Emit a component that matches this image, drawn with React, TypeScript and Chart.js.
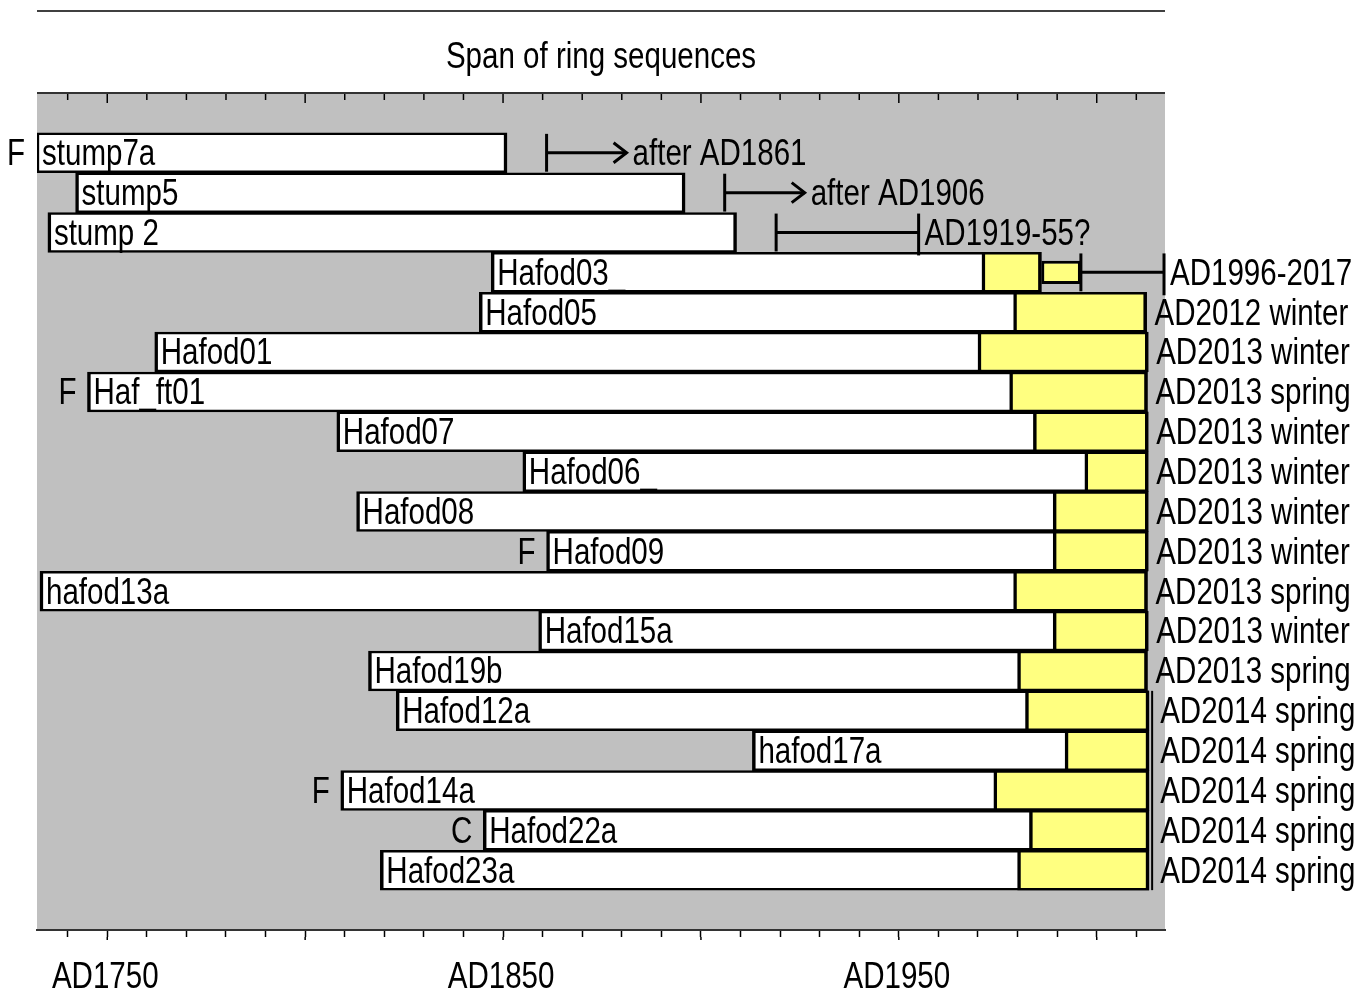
import React, { useEffect, useRef } from 'react';
import { Chart, registerables } from 'chart.js';

Chart.register(...registerables);

const FONT = '"Liberation Sans", Arial, sans-serif';
const FONT_SIZE = 36;
const CONDENSE = 0.82;

const TITLE = 'Span of ring sequences';

const SAMPLES = [
  'stump7a', 'stump5', 'stump 2', 'Hafod03_', 'Hafod05', 'Hafod01', 'Haf_ft01', 'Hafod07',
  'Hafod06_', 'Hafod08', 'Hafod09', 'hafod13a', 'Hafod15a', 'Hafod19b', 'Hafod12a',
  'hafod17a', 'Hafod14a', 'Hafod22a', 'Hafod23a',
];
const PREFIXES = ['F', '', '', '', '', '', 'F', '', '', '', 'F', '', '', '', '', '', 'F', 'C', ''];
const START_YEARS = [
  1732, 1742, 1735, 1847, 1844, 1762, 1745, 1808, 1855, 1813, 1861, 1733, 1859, 1816, 1823,
  1913, 1809, 1845, 1819,
];
const SAPWOOD_START = [
  null, null, null, 1971, 1979, 1970, 1978, 1984, 1997, 1989, 1989, 1979, 1989, 1980, 1982,
  1992, 1974, 1983, 1980,
];
const END_YEARS = [
  1851, 1896, 1909, 1986, 2012.6, 2013, 2012.8, 2013, 2013, 2013, 2013, 2012.8, 2013, 2012.8,
  2013.2, 2013.2, 2013.2, 2013.2, 2013.2,
];
const ESTIMATE_FROM = [null, null, null, 1986, null, null, null, null, null, null, null, null, null, null, null, null, null, null, null];
const ESTIMATE_TO = [null, null, null, 1996, null, null, null, null, null, null, null, null, null, null, null, null, null, null, null];
const MARKER_FROM = [1861, 1906, 1919, 1996, null, null, null, null, null, null, null, null, null, null, null, null, null, null, null];
const MARKER_TO = [null, null, 1955, 2017, null, null, null, null, null, null, null, null, null, null, null, null, null, null, null];
const FELLING_LABELS = [
  'after AD1861', 'after AD1906', 'AD1919-55?', 'AD1996-2017', 'AD2012 winter',
  'AD2013 winter', 'AD2013 spring', 'AD2013 winter', 'AD2013 winter', 'AD2013 winter',
  'AD2013 winter', 'AD2013 spring', 'AD2013 winter', 'AD2013 spring', 'AD2014 spring',
  'AD2014 spring', 'AD2014 spring', 'AD2014 spring', 'AD2014 spring',
];
const YEAR_LINE = 2014;
const YEAR_LINE_ROWS = ['Hafod12a', 'hafod17a', 'Hafod14a', 'Hafod22a', 'Hafod23a'];

const AXIS_MIN = 1732.25;
const AXIS_MAX = 2017.25;
const TICK_STEP = 10;
const TICK_YEARS = [1750, 1850, 1950];
const TICK_LABELS = ['AD1750', 'AD1850', 'AD1950'];

const pad = (arr: any[]) => [null, ...arr, null];

function drawText(ctx: CanvasRenderingContext2D, text: string, x: number, y: number, align: CanvasTextAlign) {
  ctx.save();
  ctx.translate(x, y);
  ctx.scale(CONDENSE, 1);
  ctx.font = `${FONT_SIZE}px ${FONT}`;
  ctx.textAlign = align;
  ctx.textBaseline = 'middle';
  ctx.fillStyle = '#000';
  ctx.fillText(text, 0, 0);
  ctx.restore();
}

const overlayPlugin = {
  id: 'overlay',
  beforeDraw(chart: any) {
    const { ctx, chartArea: a } = chart;
    ctx.save();
    ctx.fillStyle = '#c0c0c0';
    ctx.fillRect(a.left, a.top, a.right - a.left, a.bottom - a.top);
    ctx.strokeStyle = '#404040';
    ctx.lineWidth = 2;
    ctx.beginPath();
    ctx.moveTo(a.left, 3);
    ctx.lineTo(a.right, 3);
    ctx.stroke();
    ctx.restore();
  },
  afterDatasetsDraw(chart: any) {
    const { ctx, chartArea: a, scales } = chart;
    const xs = scales.x;
    const ys = scales.y;
    const rowH = ys.getPixelForValue(1) - ys.getPixelForValue(0);
    const half = rowH / 2;
    const px = (v: number) => xs.getPixelForValue(v);
    ctx.save();
    ctx.strokeStyle = '#000';
    ctx.fillStyle = '#000';
    ctx.lineCap = 'butt';
    const line = (x1: number, y1: number, x2: number, y2: number, w = 3) => {
      ctx.lineWidth = w;
      ctx.beginPath();
      ctx.moveTo(x1, y1);
      ctx.lineTo(x2, y2);
      ctx.stroke();
    };

    // title
    drawText(ctx, TITLE, (a.left + a.right) / 2, 50, 'center');

    // ticks: inner top ticks, longer majors, labels
    xs.ticks.forEach((t: any) => {
      const x = px(t.value);
      const major = t.value % 50 === 0;
      ctx.strokeStyle = '#000';
      line(x, a.top, x, a.top + (major ? 10 : 7), 1.5);
      if (major) line(x, a.bottom + 7, x, a.bottom + 10, 1.5);
      const k = TICK_YEARS.indexOf(t.value);
      if (k >= 0) drawText(ctx, TICK_LABELS[k], x - 2, a.bottom + 48, 'center');
    });
    ctx.strokeStyle = '#333';
    line(a.left, a.top, a.right, a.top, 2);
    ctx.strokeStyle = '#000';

    // year line next to the 2014 group
    const rowsIdx = YEAR_LINE_ROWS.map((n) => SAMPLES.indexOf(n));
    const yTop = ys.getPixelForValue(Math.min(...rowsIdx) + 1) - half;
    const yBot = ys.getPixelForValue(Math.max(...rowsIdx) + 1) + half;
    const yl = px(YEAR_LINE);
    line(yl, yTop, yl, yBot, 2);

    SAMPLES.forEach((name, i) => {
      const cy = ys.getPixelForValue(i + 1);
      const x0 = px(START_YEARS[i]);
      drawText(ctx, name, x0 + 6, cy + 2.5, 'left');
      if (PREFIXES[i]) drawText(ctx, PREFIXES[i], x0 - 11, cy + 2.5, 'right');
      let labelX: number;
      const from = MARKER_FROM[i];
      const to = MARKER_TO[i];
      if (from != null) {
        const xf = px(from);
        line(xf, cy - half + 1, xf, cy + half - 1, 3);
        if (to != null) {
          const xt = px(to);
          line(xf, cy, xt, cy, 3);
          line(xt, cy - half + 1, xt, cy + half + 3, 3);
          labelX = xt + 6;
        } else {
          const tip = xf + 80;
          line(xf, cy, tip, cy, 3);
          ctx.lineWidth = 3;
          ctx.beginPath();
          ctx.moveTo(tip - 13, cy - 10);
          ctx.lineTo(tip, cy);
          ctx.lineTo(tip - 13, cy + 10);
          ctx.stroke();
          labelX = tip + 6;
        }
      } else {
        const xe = px(END_YEARS[i]);
        labelX = (YEAR_LINE_ROWS.includes(name) ? Math.max(xe, yl) : xe) + 8;
      }
      drawText(ctx, FELLING_LABELS[i], labelX, cy + 2.5, 'left');
    });
    ctx.restore();
  },
};

export default function App() {
  const ref = useRef<HTMLCanvasElement | null>(null);
  useEffect(() => {
    if (!ref.current) return;
    const white = pad(START_YEARS.map((s, i) => [s, END_YEARS[i]]));
    const yellow = pad(SAPWOOD_START.map((s, i) => (s == null ? null : [s, END_YEARS[i]])));
    const estimate = pad(ESTIMATE_FROM.map((s, i) => (s == null ? null : [s, ESTIMATE_TO[i]])));
    const common = {
      grouped: false,
      categoryPercentage: 1,
      barPercentage: 1,
      borderColor: '#000',
      borderSkipped: false,
      borderWidth: { top: 2.5, bottom: 2.5, left: 3.5, right: 3.5 },
    };
    const chart = new Chart(ref.current, {
      type: 'bar',
      data: {
        labels: ['', ...SAMPLES, ''],
        datasets: [
          { ...common, label: 'estimated sapwood', data: estimate as any, backgroundColor: '#ffff80', barPercentage: 0.58, borderWidth: 3 },
          { ...common, label: 'sapwood', data: yellow as any, backgroundColor: '#ffff80' },
          { ...common, label: 'heartwood', data: white as any, backgroundColor: '#ffffff' },
        ] as any,
      },
      options: {
        indexAxis: 'y',
        animation: false,
        responsive: true,
        maintainAspectRatio: false,
        layout: { padding: { left: 29, right: 194, top: 85, bottom: 63 } },
        plugins: {
          legend: { display: false },
          tooltip: { enabled: false },
          title: { display: false },
        },
        scales: {
          x: {
            type: 'linear',
            position: 'bottom',
            min: AXIS_MIN,
            max: AXIS_MAX,
            grid: { drawOnChartArea: false, drawTicks: true, tickLength: 7, tickColor: '#000', tickWidth: 1.5 },
            border: { display: true, color: '#333', width: 2 },
            ticks: {
              display: false,
              stepSize: TICK_STEP,
              includeBounds: false,
              autoSkip: false,
            },
          },
          y: {
            type: 'category',
            display: false,
            offset: true,
          },
        },
      } as any,
      plugins: [overlayPlugin],
    });
    return () => chart.destroy();
  }, []);
  return (
    <div style={{ position: 'relative', width: 1351, height: 992 }}>
      <canvas ref={ref} />
    </div>
  );
}
